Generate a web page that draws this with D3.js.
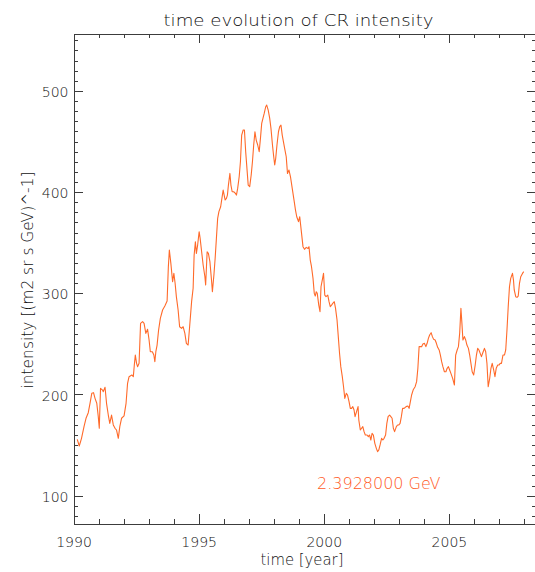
<!DOCTYPE html>
<html>
<head>
<meta charset="utf-8">
<script src="https://cdn.jsdelivr.net/npm/d3@7"></script>
<style>
  html, body { margin: 0; padding: 0; background: #fff; }
  svg { display: block; }
  text { font-family: "DejaVu Sans", sans-serif; fill: #111; }
</style>
</head>
<body>
<svg id="chart" width="535" height="572"></svg>
<script>
// ---- data ----
const years = [
1990.15,1990.23,1990.32,1990.42,1990.50,1990.59,1990.66,1990.73,1990.80,1990.86,
1990.93,1990.99,1991.03,1991.08,1991.16,1991.19,1991.26,1991.32,1991.39,1991.45,
1991.52,1991.59,1991.66,1991.72,1991.79,1991.85,1991.92,1992.02,1992.10,1992.16,
1992.22,1992.33,1992.39,1992.43,1992.47,1992.52,1992.56,1992.62,1992.68,1992.76,
1992.82,1992.89,1992.96,1993.02,1993.07,1993.15,1993.21,1993.25,1993.29,1993.34,
1993.40,1993.47,1993.56,1993.65,1993.74,1993.79,1993.83,1993.89,1993.96,1994.01,
1994.06,1994.11,1994.18,1994.24,1994.32,1994.38,1994.45,1994.51,1994.58,1994.64,
1994.72,1994.78,1994.82,1994.87,1994.91,1994.96,1995.02,1995.06,1995.12,1995.18,
1995.25,1995.28,1995.34,1995.39,1995.45,1995.52,1995.55,1995.61,1995.66,1995.71,
1995.76,1995.81,1995.88,1995.93,1995.98,1996.02,1996.06,1996.11,1996.15,1996.19,
1996.25,1996.29,1996.34,1996.40,1996.47,1996.51,1996.56,1996.62,1996.67,1996.72,
1996.78,1996.83,1996.88,1996.93,1996.98,1997.04,1997.10,1997.15,1997.20,1997.25,
1997.30,1997.36,1997.42,1997.47,1997.52,1997.57,1997.62,1997.68,1997.72,1997.78,
1997.84,1997.89,1997.95,1998.00,1998.04,1998.08,1998.13,1998.19,1998.24,1998.29,
1998.34,1998.40,1998.45,1998.50,1998.55,1998.61,1998.67,1998.72,1998.77,1998.82,
1998.87,1998.92,1998.99,1999.04,1999.10,1999.17,1999.23,1999.30,1999.37,1999.41,
1999.46,1999.51,1999.57,1999.62,1999.66,1999.70,1999.74,1999.80,1999.85,1999.89,
1999.94,1999.99,2000.04,2000.09,2000.16,2000.21,2000.26,2000.31,2000.36,2000.42,
2000.47,2000.53,2000.58,2000.63,2000.68,2000.74,2000.79,2000.84,2000.90,2000.95,
2001.01,2001.06,2001.11,2001.16,2001.21,2001.25,2001.31,2001.37,2001.40,2001.46,
2001.51,2001.56,2001.61,2001.66,2001.73,2001.78,2001.83,2001.88,2001.93,2001.98,
2002.04,2002.10,2002.15,2002.20,2002.25,2002.31,2002.36,2002.41,2002.47,2002.52,
2002.57,2002.63,2002.68,2002.73,2002.78,2002.83,2002.90,2002.95,2003.00,2003.05,
2003.10,2003.15,2003.21,2003.29,2003.36,2003.41,2003.46,2003.51,2003.58,2003.65,
2003.71,2003.76,2003.81,2003.86,2003.91,2003.96,2004.02,2004.08,2004.13,2004.18,
2004.23,2004.29,2004.34,2004.39,2004.45,2004.50,2004.55,2004.61,2004.66,2004.71,
2004.76,2004.82,2004.88,2004.93,2004.98,2005.03,2005.08,2005.15,2005.22,2005.27,
2005.33,2005.38,2005.43,2005.48,2005.52,2005.56,2005.62,2005.67,2005.72,2005.78,
2005.83,2005.88,2005.93,2005.99,2006.05,2006.10,2006.15,2006.20,2006.25,2006.30,
2006.37,2006.42,2006.47,2006.52,2006.57,2006.63,2006.68,2006.73,2006.79,2006.84,
2006.89,2006.95,2007.00,2007.05,2007.10,2007.16,2007.22,2007.27,2007.32,2007.37,
2007.42,2007.47,2007.54,2007.58,2007.61,2007.67,2007.72,2007.77,2007.82,2007.87,
2007.94,2007.99
];
const intensity = [
155.7,149.1,156.7,168.2,176.5,182.0,191.3,201.2,201.8,196.2,
191.3,178.1,166.6,206.1,204.4,202.8,207.1,191.3,179.7,171.5,
179.7,169.9,166.6,164.9,156.7,168.2,176.5,178.8,191.3,211.0,
217.6,219.3,217.6,229.1,239.0,230.8,227.5,230.8,270.3,272.0,
270.3,260.4,264.4,253.9,242.3,242.3,239.0,232.4,242.3,248.9,
263.7,275.3,283.5,287.5,292.4,326.3,342.8,329.6,311.5,319.7,
309.9,296.7,283.5,267.0,265.4,267.0,260.4,250.6,248.9,267.0,
292.0,305.0,337.8,351.0,339.5,347.7,360.9,354.3,341.1,328.0,
316.4,308.2,341.1,339.5,331.3,311.5,301.6,318.1,334.6,354.3,
374.1,380.7,385.6,393.8,402.1,397.1,392.2,393.8,397.1,407.0,
418.5,407.0,400.4,400.4,398.8,397.1,403.7,415.2,430.1,456.4,
461.4,461.4,440.0,423.5,407.0,405.4,416.9,430.1,446.6,459.7,
451.5,446.6,440.0,453.1,468.0,472.9,477.8,484.4,486.1,481.1,
472.9,463.0,446.6,435.0,426.8,433.4,446.6,459.7,464.7,466.3,
456.4,448.2,441.6,435.0,418.5,421.8,415.2,407.0,398.8,390.6,
382.3,375.7,370.8,375.7,362.0,346.1,343.5,345.4,344.4,346.1,
332.9,326.3,314.8,300.0,297.3,301.6,300.0,288.4,281.8,306.5,
313.1,319.7,298.3,296.7,298.3,291.7,286.8,288.4,290.1,291.7,
285.1,273.6,257.2,240.7,227.5,217.6,207.7,196.2,201.2,199.5,
192.9,186.3,186.3,188.0,184.7,178.1,183.0,188.0,174.8,164.9,
166.6,168.2,163.3,160.0,160.0,158.3,160.0,155.0,161.6,160.0,
151.7,146.8,143.5,145.2,150.1,156.7,155.0,156.7,160.0,171.5,
178.1,179.7,178.1,176.5,166.6,163.3,168.2,169.9,169.9,171.5,
178.1,186.3,186.3,188.0,188.6,186.3,192.9,199.5,205.0,207.7,
212.7,225.9,247.3,247.3,247.3,249.9,250.6,247.3,250.6,255.5,
258.8,261.1,257.2,254.5,253.9,250.6,246.6,244.0,239.0,232.4,
227.5,222.5,222.5,225.9,227.5,224.2,220.9,216.0,209.4,239.0,
244.0,247.3,260.4,285.1,270.3,253.9,257.2,253.9,248.9,245.6,
239.0,230.8,222.5,219.3,229.1,239.0,245.6,244.0,240.7,237.4,
242.3,245.6,242.3,230.8,207.7,216.0,225.9,230.8,224.2,217.6,
225.9,229.1,229.1,230.8,230.8,239.0,239.0,244.0,263.7,286.8,
306.5,314.8,319.7,313.1,303.3,296.7,296.0,297.3,309.9,316.4,
319.7,321.4
];
const xTickValues = [1990, 1995, 2000, 2005];
const xMinorValues = d3.range(1990, 2009, 1);
const yTickValues = [100, 200, 300, 400, 500];
const yMinorValues = d3.range(80, 560, 10);
const xDomain = [1990, 2008.5];
const yDomain = [72.5, 556.8];
const titleText = "time evolution of CR intensity";
const xLabel = "time [year]";
const yLabel = "intensity [(m2 sr s GeV)^-1]";
const annotation = "2.3928000 GeV";

// ---- layout ----
const L = 73.5, R = 536.5, T = 33.5, B = 523.5;
const axisColor = "#3c3c3c";
const textColor = "#111";
const lineColor = "#ff6a2a";

const svg = d3.select("#chart");
const x = d3.scaleLinear().domain(xDomain).range([L, R]);
const y = d3.scaleLinear().domain(yDomain).range([B, T]);

const majX = 9.8, minX = 4.9, majY = 9.2, minY = 4.6;

function styleAxis(g) {
  g.selectAll("path.domain").attr("stroke", axisColor).attr("shape-rendering", "crispEdges");
  g.selectAll(".tick line").attr("stroke", axisColor).attr("shape-rendering", "crispEdges");
  g.selectAll(".tick text").attr("fill", textColor)
    .attr("font-family", "DejaVu Sans, sans-serif").attr("font-weight", 200);
}

// bottom axis
svg.append("g").attr("transform", `translate(0,${B})`)
  .call(d3.axisBottom(x).tickValues(xMinorValues).tickSize(-minX).tickSizeOuter(0).tickFormat(""))
  .call(styleAxis);
svg.append("g").attr("transform", `translate(0,${B})`)
  .call(d3.axisBottom(x).tickValues(xTickValues).tickSize(-majX).tickSizeOuter(0)
    .tickPadding(13.6).tickFormat(d3.format("d")))
  .call(g => g.selectAll(".tick text").attr("font-size", 14))
  .call(g => g.select("path.domain").remove())
  .call(styleAxis);

// top axis
svg.append("g").attr("transform", `translate(0,${T})`)
  .call(d3.axisTop(x).tickValues(xMinorValues).tickSize(-minX).tickSizeOuter(0).tickFormat(""))
  .call(styleAxis);
svg.append("g").attr("transform", `translate(0,${T})`)
  .call(d3.axisTop(x).tickValues(xTickValues).tickSize(-majX).tickSizeOuter(0).tickFormat(""))
  .call(g => g.select("path.domain").remove())
  .call(styleAxis);

// left axis
svg.append("g").attr("transform", `translate(${L},0)`)
  .call(d3.axisLeft(y).tickValues(yMinorValues).tickSize(-minY).tickSizeOuter(0).tickFormat(""))
  .call(styleAxis);
svg.append("g").attr("transform", `translate(${L},0)`)
  .call(d3.axisLeft(y).tickValues(yTickValues).tickSize(-majY).tickSizeOuter(0)
    .tickPadding(5).tickFormat(d3.format("d")))
  .call(g => g.selectAll(".tick text").attr("font-size", 14).attr("dy", "0.4em"))
  .call(g => g.select("path.domain").remove())
  .call(styleAxis);

// right axis
svg.append("g").attr("transform", `translate(${R},0)`)
  .call(d3.axisRight(y).tickValues(yMinorValues).tickSize(-minY).tickSizeOuter(0).tickFormat(""))
  .call(styleAxis);
svg.append("g").attr("transform", `translate(${R},0)`)
  .call(d3.axisRight(y).tickValues(yTickValues).tickSize(-majY).tickSizeOuter(0).tickFormat(""))
  .call(g => g.select("path.domain").remove())
  .call(styleAxis);

// data line
const data = years.map((yr, i) => ({ t: yr, v: intensity[i] }));
svg.append("path")
  .datum(data)
  .attr("fill", "none")
  .attr("stroke", lineColor)
  .attr("stroke-width", 1.1)
  .attr("stroke-linejoin", "round")
  .attr("d", d3.line().x(d => x(d.t)).y(d => y(d.v)));

// title
svg.append("text")
  .attr("x", 298.5).attr("y", 26)
  .attr("text-anchor", "middle")
  .attr("font-size", 16.5).attr("font-weight", 200)
  .attr("textLength", 270).attr("lengthAdjust", "spacingAndGlyphs")
  .text(titleText);

// x label
svg.append("text")
  .attr("x", 302).attr("y", 565)
  .attr("text-anchor", "middle")
  .attr("font-size", 15).attr("font-weight", 200)
  .attr("textLength", 83).attr("lengthAdjust", "spacingAndGlyphs")
  .text(xLabel);

// y label
svg.append("text")
  .attr("transform", "translate(33,280) rotate(-90)")
  .attr("text-anchor", "middle")
  .attr("font-size", 15).attr("font-weight", 200)
  .attr("textLength", 217).attr("lengthAdjust", "spacingAndGlyphs")
  .text(yLabel);

// annotation
svg.append("text")
  .attr("x", 317).attr("y", 489)
  .attr("font-size", 16).attr("font-weight", 200)
  .style("fill", "#ff5a1e")
  .text(annotation);
</script>
</body>
</html>
